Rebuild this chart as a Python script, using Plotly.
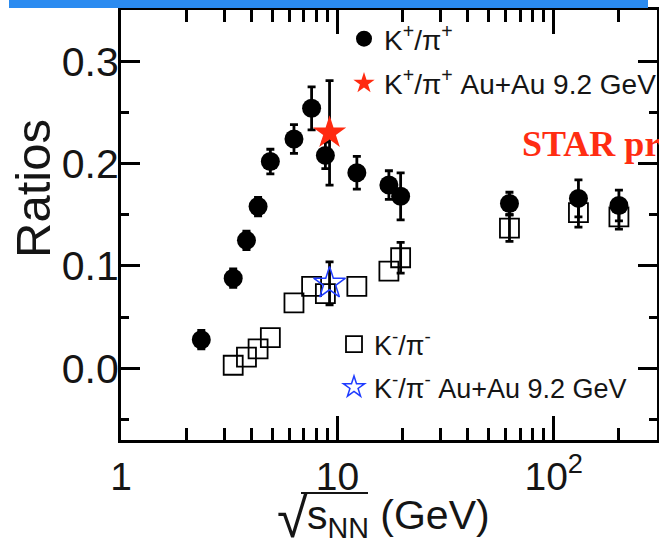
import plotly.graph_objects as go

# K+/pi+ ratio vs collision energy (filled circles)
kp_energy = [2.35, 3.3, 3.8, 4.3, 4.9, 6.3, 7.6, 8.8, 12.3, 17.3, 19.6, 62.4, 130, 200]
kp_ratio = [0.028, 0.088, 0.125, 0.158, 0.202, 0.224, 0.254, 0.208, 0.191, 0.179, 0.168, 0.161, 0.166, 0.159]
kp_error = [0.009, 0.009, 0.009, 0.009, 0.012, 0.014, 0.021, 0.013, 0.016, 0.014, 0.023, 0.011, 0.018, 0.015]

# K-/pi- ratio vs collision energy (open squares); 0 = error smaller than the marker
km_energy = [3.3, 3.8, 4.3, 4.9, 6.3, 7.6, 8.8, 12.3, 17.3, 19.6, 62.4, 130, 200]
km_ratio = [0.003, 0.011, 0.019, 0.030, 0.064, 0.080, 0.073, 0.080, 0.095, 0.108, 0.137, 0.152, 0.148]
km_error = [0, 0, 0, 0, 0, 0, 0, 0, 0, 0.015, 0.013, 0.014, 0.012]

# Au+Au 9.2 GeV measurements (stars)
auau_energy = [9.2]
auau_kp_ratio = [0.230]
auau_kp_error = [0.051]
auau_km_ratio = [0.083]
auau_km_error = [0.021]

# Axis ticks
x_tickvals = [1, 10, 100]
x_ticktext = ["1", "10", "10<sup>2</sup>"]
x_minor = [2, 3, 4, 5, 6, 7, 8, 9, 20, 30, 40, 50, 60, 70, 80, 90, 200]
y_tickvals = [0.0, 0.1, 0.2, 0.3]
y_minor = [-0.05, 0.05, 0.15, 0.25]

SANS = "Liberation Sans, Arial, sans-serif"
INK = "#151515"


def err(values):
    return dict(type="data", array=values, visible=True, color="black",
                thickness=2.8, width=4)


fig = go.Figure()

# error bars of the K-/pi- points that stick out of their squares
km_bar_idx = [i for i, e in enumerate(km_error) if e > 0]
fig.add_trace(go.Scatter(
    x=[km_energy[i] for i in km_bar_idx], y=[km_ratio[i] for i in km_bar_idx],
    mode="markers", marker=dict(size=1, opacity=0), showlegend=False, hoverinfo="skip",
    error_y=err([km_error[i] for i in km_bar_idx]),
))
fig.add_trace(go.Scatter(
    x=kp_energy, y=kp_ratio, mode="markers", name="K<sup>+</sup>/π<sup>+</sup>",
    marker=dict(symbol="circle", size=19, color="black"),
    error_y=err(kp_error), legend="legend", legendgroup="kp",
))
fig.add_trace(go.Scatter(
    x=km_energy, y=km_ratio, mode="markers", name="K<sup>-</sup>/π<sup>-</sup>",
    marker=dict(symbol="square-open", size=19, color="black", line=dict(width=1.8, color="black")),
    legend="legend2", legendgroup="km",
))
fig.add_trace(go.Scatter(
    x=auau_energy, y=auau_kp_ratio, mode="markers",
    name="K<sup>+</sup>/π<sup>+</sup> Au+Au 9.2 GeV",
    marker=dict(symbol="star", size=25, color="#ff2a10", line=dict(width=0)),
    error_y=err(auau_kp_error), legend="legend", legendgroup="kp_auau",
))
fig.add_trace(go.Scatter(
    x=auau_energy, y=auau_km_ratio, mode="markers",
    name="K<sup>-</sup>/π<sup>-</sup> Au+Au 9.2 GeV",
    marker=dict(symbol="star-open", size=24, color="#1f3cff", line=dict(width=1.5, color="#1f3cff")),
    error_y=err(auau_km_error), legend="legend2", legendgroup="km_auau",
))

axis_common = dict(
    showline=True, linewidth=3, linecolor="black", mirror="ticks",
    ticks="inside", tickwidth=3, tickcolor="black", showgrid=False, zeroline=False,
)

fig.update_xaxes(
    type="log", range=[0, 2.477], tickvals=x_tickvals, ticktext=x_ticktext,
    ticklen=24, tickfont=dict(family=SANS, size=39, color=INK),
    minor=dict(tickvals=x_minor, ticks="inside", ticklen=12, tickwidth=3, tickcolor="black", showgrid=False),
    **axis_common,
)
fig.update_yaxes(
    range=[-0.07, 0.35], tickvals=y_tickvals, tickformat=".1f",
    ticklen=19, ticklabelstandoff=-9, tickfont=dict(family=SANS, size=41, color=INK),
    minor=dict(tickvals=y_minor, ticks="inside", ticklen=8, tickwidth=3, tickcolor="black", showgrid=False),
    **axis_common,
)

legend_common = dict(
    xanchor="left", yanchor="top", bgcolor="rgba(0,0,0,0)", borderwidth=0,
    tracegroupgap=5, itemsizing="trace",
)

fig.update_layout(
    width=659, height=543,
    margin=dict(l=121, r=2, t=10, b=103, autoexpand=False),
    paper_bgcolor="white", plot_bgcolor="white",
    showlegend=True,
    legend=dict(x=(344 - 121) / 536, y=(440 - 14) / 430,
                font=dict(family=SANS, size=28, color=INK), **legend_common),
    legend2=dict(x=(334 - 121) / 536, y=(440 - 320) / 430,
                 font=dict(family=SANS, size=27, color=INK), **legend_common),
    shapes=[
        # banner strip along the top edge
        dict(type="rect", xref="paper", yref="paper", x0=(9 - 121) / 536, x1=(648 - 121) / 536,
             y0=(440 - 8) / 430, y1=1.03, fillcolor="#2b8bf0", line=dict(width=0), layer="above"),
        # bar over the radicand of the x-axis title
        dict(type="line", xref="paper", yref="paper", x0=(301 - 121) / 536, x1=(368 - 121) / 536,
             y0=(440 - 493) / 430, y1=(440 - 493) / 430, line=dict(color=INK, width=2.2)),
    ],
    annotations=[
        dict(text="Ratios", xref="paper", yref="paper", x=(33 - 121) / 536, y=(440 - 189) / 430,
             textangle=-90, showarrow=False, xanchor="center", yanchor="middle",
             font=dict(family=SANS, size=49, color=INK)),
        dict(text="√", xref="paper", yref="paper", x=(275 - 121) / 536, y=(440 - 517) / 430,
             showarrow=False, xanchor="left", yanchor="middle",
             font=dict(family=SANS, size=56, color=INK)),
        dict(text="s<sub>NN</sub> (GeV)", xref="paper", yref="paper", x=(305 - 121) / 536,
             y=(440 - 518) / 430, showarrow=False, xanchor="left", yanchor="middle",
             font=dict(family=SANS, size=41, color=INK)),
        dict(text="<b>STAR preliminary</b>", xref="paper", yref="paper", x=(520 - 121) / 536,
             y=(440 - 144) / 430, showarrow=False, xanchor="left", yanchor="middle",
             font=dict(family="Liberation Serif, Times New Roman, serif", size=36, color="#ff2d12")),
    ],
)

fig.write_html("out.html")
